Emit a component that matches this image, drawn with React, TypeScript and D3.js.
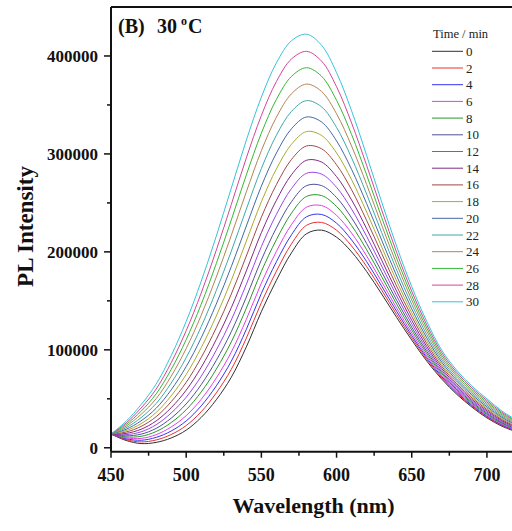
import React from "react";
import * as d3 from "d3";

const wavelengths = [450, 460, 470, 480, 490, 500, 510, 520, 530, 540, 550, 560, 570, 580, 590, 600, 610, 620, 630, 640, 650, 660, 670, 680, 690, 700, 710, 720];
const times = [0, 2, 4, 6, 8, 10, 12, 14, 16, 18, 20, 22, 24, 26, 28, 30];

const s0 = [14000, 7500, 4300, 5500, 10000, 18000, 31000, 49000, 72000, 103000, 139000, 171000, 199000, 218500, 222200, 215000, 200000, 180000, 157000, 133000, 110000, 88500, 70000, 54500, 41500, 30500, 22000, 16000];
const s2 = [14000, 8300, 6000, 8000, 13500, 22700, 36800, 56000, 80100, 111900, 148200, 180300, 208100, 227100, 230100, 222100, 206000, 185000, 161000, 136000, 112300, 90200, 71200, 55500, 42400, 31300, 22700, 16500];
const s4 = [14000, 9200, 7700, 10600, 17100, 27400, 42800, 63200, 88400, 120900, 157600, 189900, 217400, 235800, 238200, 229300, 212200, 190100, 165000, 139200, 114600, 91900, 72500, 56600, 43300, 32200, 23300, 17000];
const s6 = [14000, 10100, 9600, 13400, 21200, 32800, 49500, 71200, 97700, 131100, 168100, 200500, 227800, 245600, 247300, 237300, 219200, 195800, 169500, 142600, 117200, 93900, 73900, 57800, 44400, 33100, 24100, 17600];
const s8 = [14000, 11100, 11700, 16600, 25700, 38800, 57000, 80200, 108100, 142500, 180000, 212500, 239500, 256600, 257500, 246400, 226900, 202200, 174600, 146600, 120200, 96100, 75500, 59100, 45500, 34100, 24900, 18200];
const s10 = [14000, 12200, 13900, 19800, 30200, 44800, 64500, 89200, 118500, 153900, 191800, 224500, 251200, 267600, 267700, 255500, 234700, 208600, 179700, 150500, 123100, 98300, 77100, 60400, 46700, 35200, 25700, 18900];
const s12 = [14000, 13400, 16300, 23500, 35500, 51600, 73100, 99600, 130500, 166900, 205400, 238300, 264600, 280200, 279400, 265900, 243600, 215900, 185500, 155000, 126500, 100800, 78900, 61900, 48000, 36400, 26700, 19600];
const s14 = [14000, 14700, 18900, 27400, 40900, 58800, 82200, 110500, 143000, 180600, 219600, 252700, 278700, 293500, 291700, 276800, 253000, 223600, 191600, 159700, 130100, 103400, 80900, 63500, 49400, 37700, 27700, 20400];
const s16 = [14000, 16100, 21800, 31700, 47000, 66800, 92200, 122500, 156900, 195800, 235400, 268700, 294300, 308100, 305300, 288900, 263400, 232100, 198400, 164900, 134000, 106300, 83000, 65300, 51000, 39100, 28800, 21300];
const s18 = [14000, 17500, 24600, 36000, 53000, 74800, 102200, 134500, 170800, 211000, 251100, 284700, 309800, 322800, 318900, 301000, 273700, 240700, 205100, 170100, 137900, 109200, 85100, 67000, 52500, 40500, 29900, 22100];
const s20 = [14000, 18900, 27500, 40300, 59100, 82900, 112300, 146700, 184900, 226400, 267100, 300900, 325700, 337700, 332600, 313300, 284200, 249300, 212000, 175400, 141900, 112200, 87300, 68800, 54100, 41900, 31100, 23000];
const s22 = [14000, 20500, 30800, 45200, 66000, 92000, 123700, 160400, 200700, 243700, 285100, 319100, 343400, 354400, 348100, 327100, 296000, 259000, 219700, 181400, 146400, 115500, 89700, 70800, 55800, 43500, 32300, 24000];
const s24 = [14000, 22100, 34100, 50100, 73000, 101300, 135300, 174300, 216800, 261300, 303300, 337500, 361400, 371300, 363800, 341000, 308000, 268900, 227500, 187400, 150900, 118900, 92100, 72900, 57600, 45100, 33600, 25000];
const s26 = [14000, 23700, 37300, 55000, 79900, 110400, 146600, 187900, 232600, 278600, 321200, 355700, 379100, 388000, 379300, 354800, 319800, 278600, 235200, 193300, 155300, 122200, 94500, 74900, 59400, 46700, 34900, 26000];
const s28 = [14000, 25300, 40600, 59900, 86800, 119500, 158000, 201600, 248400, 295900, 339200, 373900, 396900, 404700, 394800, 368600, 331600, 288300, 242900, 199300, 159800, 125500, 97000, 76900, 61200, 48300, 36200, 27000];
const s30 = [14000, 27000, 44000, 65000, 94000, 129000, 170000, 216000, 265000, 314000, 358000, 393000, 415500, 422200, 411000, 383000, 344000, 298500, 251000, 205500, 164500, 129000, 99500, 79000, 63000, 50000, 37500, 28000];

const seriesValues = [s0, s2, s4, s6, s8, s10, s12, s14, s16, s18, s20, s22, s24, s26, s28, s30];

const xTicks = [450, 500, 550, 600, 650, 700];
const xMinorTicks = [475, 525, 575, 625, 675];
const yTicks = [0, 100000, 200000, 300000, 400000];
const yMinorTicks = [50000, 150000, 250000, 350000];

const colors = ["#303030", "#e83030", "#3434f0", "#e040e0", "#2a962a", "#505098", "#9a44e6", "#842884", "#a24848", "#aaaa30", "#4468a8", "#40a8a8", "#b08456", "#34b834", "#d4449a", "#34c4d8"];

const W = 512, H = 531;
const L = 111, R = 517, T = 7, B = 451.7;
const FONT = "'Liberation Serif', 'Times New Roman', serif";

export default function App() {
  const x = d3.scaleLinear().domain([450, 720]).range([L, R]);
  const y = d3.scaleLinear().domain([-4000, 450000]).range([B, T]);
  const line = d3
    .line<number>()
    .x((_, i) => x(wavelengths[i]))
    .y((d) => y(d))
    .curve(d3.curveCatmullRom.alpha(0.5));

  const legendX = 432, legendY0 = 51.3, legendStep = 16.7;

  return (
    <svg width={W} height={H} style={{ position: "absolute", left: 0, top: 0, background: "#fff" }} fontFamily={FONT}>
      <rect x={0} y={0} width={W} height={H} fill="#fff" />
      <defs>
        <clipPath id="plotclip">
          <rect x={L} y={T} width={R - L} height={B - T} />
        </clipPath>
      </defs>
      <g clipPath="url(#plotclip)">
        {seriesValues.map((vals, i) => (
          <path key={i} d={line(vals) || ""} fill="none" stroke={colors[i]} strokeWidth={1} />
        ))}
      </g>
      {/* frame */}
      <line x1={L} x2={W} y1={T} y2={T} stroke="#111" strokeWidth={2} />
      <line x1={L} x2={L} y1={T} y2={B} stroke="#111" strokeWidth={2} />
      <line x1={L} x2={W} y1={B} y2={B} stroke="#111" strokeWidth={2} />
      {/* x ticks */}
      {xTicks.map((t) => (
        <g key={t}>
          <line x1={x(t)} x2={x(t)} y1={B} y2={B + 6} stroke="#111" strokeWidth={1.5} />
          <text x={x(t)} y={480.5} textAnchor="middle" fontSize={18} fontWeight="bold" fill="#111">{t}</text>
        </g>
      ))}
      {xMinorTicks.map((t) => (
        <line key={t} x1={x(t)} x2={x(t)} y1={B} y2={B + 4} stroke="#111" strokeWidth={1.5} />
      ))}
      {/* y ticks */}
      {yTicks.map((t) => (
        <g key={t}>
          <line x1={L - 7} x2={L} y1={y(t)} y2={y(t)} stroke="#111" strokeWidth={1.5} />
          <text x={98} y={y(t) + 6} textAnchor="end" fontSize={17} fontWeight="bold" fill="#111">{t}</text>
        </g>
      ))}
      {yMinorTicks.map((t) => (
        <line key={t} x1={L - 4} x2={L} y1={y(t)} y2={y(t)} stroke="#111" strokeWidth={1.5} />
      ))}
      {/* axis titles */}
      <text x={313.5} y={513} textAnchor="middle" fontSize={22} fontWeight="bold" fill="#111">Wavelength (nm)</text>
      <text transform="translate(33,226.5) rotate(-90)" textAnchor="middle" fontSize={23} fontWeight="bold" fill="#111">PL Intensity</text>
      {/* panel title */}
      <text x={118} y={33} fontSize={20} fontWeight="bold" fill="#111">(B)</text>
      <text x={157} y={33} fontSize={20} fontWeight="bold" fill="#111">30</text>
      <text x={181} y={25} fontSize={12} fontWeight="bold" fill="#111">o</text>
      <text x={188} y={33} fontSize={20} fontWeight="bold" fill="#111">C</text>
      {/* legend */}
      <text x={433} y={38} fontSize={12.5} fill="#222">Time / min</text>
      {times.map((t, i) => (
        <g key={t}>
          <line x1={legendX} x2={legendX + 31} y1={legendY0 + i * legendStep} y2={legendY0 + i * legendStep} stroke={colors[i]} strokeWidth={1} />
          <text x={466} y={legendY0 + i * legendStep + 4.5} fontSize={13} fill="#222">{t}</text>
        </g>
      ))}
    </svg>
  );
}
